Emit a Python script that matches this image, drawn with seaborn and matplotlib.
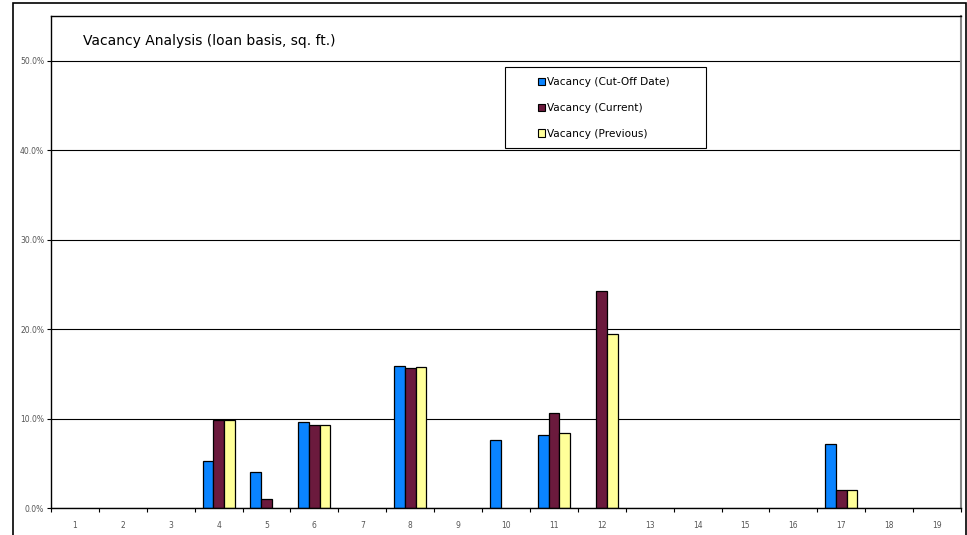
import numpy as np
import pandas as pd
import seaborn as sns
import matplotlib.pyplot as plt
from matplotlib.patches import Rectangle
from matplotlib.ticker import PercentFormatter, FixedLocator

# data (fractions)
properties = [str(i) for i in range(1, 20)]
cutoff = [0, 0, 0, 0.0526, 0.040, 0.096, 0, 0.159, 0, 0.076, 0.082, 0, 0, 0, 0, 0, 0.072, 0, 0]
current = [0, 0, 0, 0.0984, 0.010, 0.093, 0, 0.157, 0, 0, 0.106, 0.243, 0, 0, 0, 0, 0.020, 0, 0]
previous = [0, 0, 0, 0.0984, 0, 0.093, 0, 0.158, 0, 0, 0.084, 0.195, 0, 0, 0, 0, 0.020, 0, 0]

series = ["Vacancy (Cut-Off Date)", "Vacancy (Current)", "Vacancy (Previous)"]
colors = ["#0A84FF", "#6B1A3D", "#FFFF99"]

df = pd.DataFrame({
    "property": properties * 3,
    "vacancy": cutoff + current + previous,
    "series": [s for s in series for _ in properties],
})

sns.set_style("white")
plt.rcParams['font.family'] = ['DejaVu Sans']

fig = plt.figure(figsize=(9.67, 5.35), dpi=100)
ax = fig.add_axes([51 / 967, 1 - 508 / 535, 910 / 967, 492 / 535])

sns.barplot(data=df, x="property", y="vacancy", hue="series", palette=colors,
            width=0.67, dodge=True, edgecolor="black", linewidth=0.9,
            saturation=1, ax=ax, legend=True)

# empty bars show nothing in the original
for p in ax.patches:
    if p.get_height() == 0:
        p.set_linewidth(0)

ax.set_ylim(0, 0.55)
ax.set_xlim(-0.5, 18.5)
ax.yaxis.set_major_locator(FixedLocator([0, 0.1, 0.2, 0.3, 0.4, 0.5]))
ax.yaxis.set_major_formatter(PercentFormatter(1.0, decimals=1))
ax.grid(axis="y", color="black", linewidth=0.8)
ax.set_axisbelow(True)
ax.set_xlabel("")
ax.set_ylabel("")

# tick marks between categories
ax.set_xticks(np.arange(19), properties)
ax.set_xticks(np.arange(-0.5, 19, 1), minor=True)
ax.tick_params(axis="x", which="major", bottom=True, length=0, labelsize=5.5,
               labelcolor="#555555", pad=9)
ax.tick_params(axis="x", which="minor", bottom=True, length=3, width=0.8,
               color="black", direction="out")
ax.tick_params(axis="y", left=True, length=3, width=0.8, color="black", direction="out",
               labelsize=5.5, labelcolor="#555555", pad=2)

for s in ["left", "bottom", "top"]:
    ax.spines[s].set_color("black")
    ax.spines[s].set_linewidth(1.0)
ax.spines["right"].set_color("#888888")
ax.spines["right"].set_linewidth(1.5)

ax.text(0.035, 0.95, "Vacancy Analysis (loan basis, sq. ft.)", transform=ax.transAxes,
        fontsize=10, ha="left", va="center", color="black")

leg = ax.legend(loc="center left", bbox_to_anchor=(487 / 910, 400 / 492),
                frameon=False, fontsize=7.6,
                handlelength=0.7, handleheight=0.7, handletextpad=0.15,
                labelspacing=1.5, borderpad=0, borderaxespad=0)
for h in leg.legend_handles:
    h.set_edgecolor("black")
    h.set_linewidth(0.8)
for t in leg.get_texts():
    t.set_color("black")

# legend box
ax.add_patch(Rectangle((454 / 910, 360 / 492), 201 / 910, 81 / 492, transform=ax.transAxes,
                       fill=False, edgecolor="black", linewidth=0.8, zorder=5))

# outer chart frame
fig.patches.append(Rectangle((13 / 967, -0.01), 953 / 967, 1 - 3 / 535 + 0.01,
                             transform=fig.transFigure, fill=False,
                             edgecolor="black", linewidth=1.2))

fig.savefig("out.png", dpi=100, facecolor="white")
